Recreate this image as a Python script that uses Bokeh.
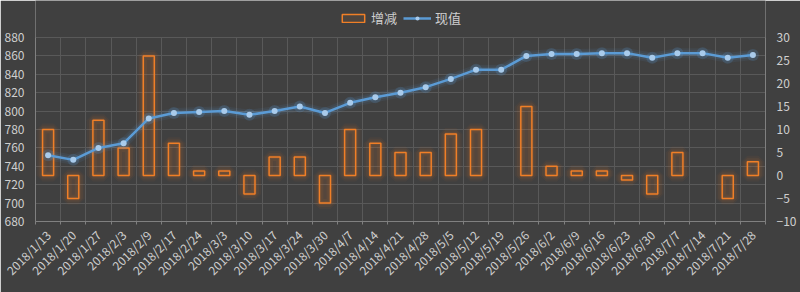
from bokeh.plotting import figure
from bokeh.models import (Range1d, LinearAxis, FixedTicker, Legend, LegendItem,
                          ColumnDataSource)
from bokeh.embed import file_html
from bokeh.resources import INLINE
import math

dates = ["2018/1/13", "2018/1/20", "2018/1/27", "2018/2/3", "2018/2/9", "2018/2/17",
         "2018/2/24", "2018/3/3", "2018/3/10", "2018/3/17", "2018/3/24", "2018/3/30",
         "2018/4/7", "2018/4/14", "2018/4/21", "2018/4/28", "2018/5/5", "2018/5/12",
         "2018/5/19", "2018/5/26", "2018/6/2", "2018/6/9", "2018/6/16", "2018/6/23",
         "2018/6/30", "2018/7/7", "2018/7/14", "2018/7/21", "2018/7/28"]
change = [10, -5, 12, 6, 26, 7, 1, 1, -4, 4, 4, -6, 10, 7, 5, 5, 9, 10,
          0, 15, 2, 1, 1, -1, -4, 5, 0, -5, 3]
current = [752, 747, 760, 765, 792, 798, 799, 800, 796, 800, 805, 798, 809, 815,
           820, 826, 835, 845, 845, 860, 862, 862, 863, 863, 858, 863, 863, 858, 861]
left_ticks = [680, 700, 720, 740, 760, 780, 800, 820, 840, 860, 880]
right_ticks = [-10, -5, 0, 5, 10, 15, 20, 25, 30]
series_names = ["增减", "现值"]

BG = "#404040"
GRID = "#595959"
AXIS = "#808080"
TXT = "#cfcfcf"
ORANGE = "#F07F27"
BLUE = "#5B9BD5"
MARK = "#a9cbeb"
FONT = "Noto Sans CJK SC"

W, H = 800, 292
TOP_PAD, BOTTOM = 37, 71
n = len(dates)
xs = [i + 0.5 for i in range(n)]
src = ColumnDataSource(dict(x=xs, d=dates, cur=current))
bx = [x for x, c in zip(xs, change) if c != 0]
bv = [c for c in change if c != 0]
bsrc = ColumnDataSource(dict(x=bx, chg=bv, bot=[0] * len(bv)))

# the frame reaches the top of the page so the legend can sit above the axes
frame_h = H - BOTTOM
lmin, lmax = left_ticks[0], left_ticks[-1]
rmin, rmax = right_ticks[0], right_ticks[-1]
ltop = lmax + TOP_PAD * (lmax - lmin) / (frame_h - TOP_PAD)
rtop = rmax + TOP_PAD * (rmax - rmin) / (frame_h - TOP_PAD)

p = figure(width=W, height=H, output_backend="svg", toolbar_location=None,
           x_range=Range1d(0, n), y_range=Range1d(lmin, ltop),
           background_fill_color=BG, border_fill_color=BG,
           min_border_left=35, min_border_right=35, min_border_bottom=BOTTOM,
           min_border_top=0)
p.outline_line_color = None
p.extra_y_ranges = {"r": Range1d(rmin, rtop)}

p.xaxis.ticker = FixedTicker(ticks=xs, minor_ticks=list(range(n + 1)))
p.xaxis.major_label_overrides = {x: d for x, d in zip(xs, dates)}
p.xaxis.major_label_orientation = math.pi / 4
p.xaxis.major_tick_line_color = None
p.xaxis.minor_tick_line_color = AXIS
p.xaxis.minor_tick_in = 0
p.xaxis.minor_tick_out = 3
p.xaxis.axis_line_color = AXIS
p.xaxis.major_label_text_color = TXT
p.xaxis.major_label_text_font = FONT
p.xaxis.major_label_text_font_size = "12px"
p.xgrid.grid_line_color = None
p.xgrid.minor_grid_line_color = GRID
p.xgrid.minor_grid_line_width = 1
p.xgrid.cross_bounds = (lmin, lmax)

p.yaxis.ticker = FixedTicker(ticks=left_ticks)
p.yaxis.bounds = (lmin, lmax)
p.yaxis.major_tick_line_color = None
p.yaxis.minor_tick_line_color = None
p.yaxis.axis_line_color = AXIS
p.yaxis.major_label_text_color = TXT
p.yaxis.major_label_text_font = FONT
p.yaxis.major_label_text_font_size = "12px"
p.ygrid.grid_line_color = GRID
p.ygrid.grid_line_width = 1

ra = LinearAxis(y_range_name="r", ticker=FixedTicker(ticks=right_ticks),
                bounds=(rmin, rmax))
ra.major_tick_line_color = None
ra.minor_tick_line_color = None
ra.axis_line_color = AXIS
ra.major_label_text_color = TXT
ra.major_label_text_font = FONT
ra.major_label_text_font_size = "12px"
p.add_layout(ra, "right")

for lw, la in [(12, 0.05), (8, 0.07), (4, 0.09)]:
    p.vbar(x="x", top="chg", bottom="bot", width=0.44, source=bsrc, y_range_name="r",
           fill_alpha=0, line_color=ORANGE, line_alpha=la, line_width=lw)
bars = p.vbar(x="x", top="chg", bottom="bot", width=0.44, source=bsrc, y_range_name="r",
              fill_color=ORANGE, fill_alpha=0.08, line_color=ORANGE, line_width=1.5)

for lw, la in [(10, 0.08), (6, 0.12)]:
    p.line(x="x", y="cur", source=src, line_color=BLUE, line_width=lw, line_alpha=la)
ln = p.line(x="x", y="cur", source=src, line_color=BLUE, line_width=2.5)
p.scatter(x="x", y="cur", source=src, size=12, fill_color=BLUE, fill_alpha=0.2,
          line_color=None)
sc = p.scatter(x="x", y="cur", source=src, size=6, fill_color=MARK, line_color=None)

legend = Legend(items=[LegendItem(label=series_names[0], renderers=[bars]),
                       LegendItem(label=series_names[1], renderers=[ln, sc])],
                orientation="horizontal", location="top_center",
                background_fill_alpha=0, border_line_alpha=0,
                label_text_color=TXT, label_text_font=FONT,
                label_text_font_size="13px", glyph_width=28, glyph_height=10,
                spacing=6, padding=2, margin=6, label_standoff=4)
p.add_layout(legend, "center")

open("out.html", "w").write(file_html(p, INLINE))
